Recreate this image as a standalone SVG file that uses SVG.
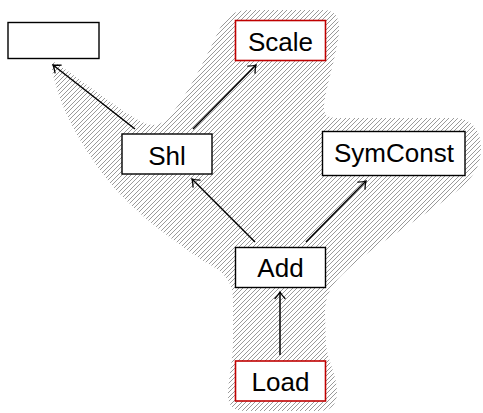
<svg xmlns="http://www.w3.org/2000/svg" width="483" height="413" viewBox="0 0 483 413">
  <style>
    .node rect { fill: #ffffff; stroke: #000000; stroke-width: 1.4; }
    .node.marked rect { stroke: #c00000; stroke-width: 1.6; }
    .node text { font-family: "Liberation Sans", Arial, sans-serif; font-size: 26px; fill: #000000; text-anchor: middle; }
    .edge { stroke: #000000; stroke-width: 1.5; fill: none; marker-end: url(#tip); }
  </style>
  <defs>
    <!-- pixel-aligned 45° hatching, two lines per 9px tile -->
    <pattern id="hatch" x="0" y="0" width="9" height="9" patternUnits="userSpaceOnUse">
      <path fill="#9a9a9a" d="M0,8h1v1h-1z M1,7h1v1h-1z M2,6h1v1h-1z M3,5h1v1h-1z M4,4h1v1h-1z M5,3h1v1h-1z M6,2h1v1h-1z M7,1h1v1h-1z M8,0h1v1h-1z
        M0,4h1v1h-1z M1,3h1v1h-1z M2,2h1v1h-1z M3,1h1v1h-1z M4,0h1v1h-1z M5,8h1v1h-1z M6,7h1v1h-1z M7,6h1v1h-1z M8,5h1v1h-1z"/>
    </pattern>
    <marker id="tip" markerUnits="userSpaceOnUse" markerWidth="14" markerHeight="14" viewBox="-8 -7 10 14" refX="0" refY="0" orient="auto">
      <path d="M -6.5,-5 Q -2.5,-1.3 0,0 Q -2.5,1.3 -6.5,5" fill="none" stroke="#000000" stroke-width="1.3" stroke-linecap="round"/>
    </marker>
  </defs>

  <!-- shaded region covering the selected part of the graph -->
  <path id="region" fill="url(#hatch)" d="M 54,62
    C 80,78 115,108 142,122
    C 152,127 160,126 168,118
    C 185,100 205,60 220,28
    C 226,15 234,11 248,10
    L 322,10
    C 336,10 340,18 339,32
    C 337,55 326,85 324,105
    C 323,116 328,118 340,118
    L 455,118
    C 472,119 481,130 481,148
    C 481,170 470,182 445,200
    C 410,225 370,248 345,272
    C 330,286 325,296 325,315
    L 326,345
    C 328,362 337,375 337,392
    C 337,406 330,411 318,411
    L 245,411
    C 232,411 227,404 228,392
    C 229,375 233,360 233,340
    L 233,300
    C 233,282 225,272 205,262
    C 180,245 140,218 110,183
    C 80,145 62,110 55,82
    C 52,72 50,64 54,62 Z"/>

  <g id="edges">
    <line class="edge" x1="135" y1="129" x2="53" y2="65"/>
    <line class="edge" x1="193" y1="129" x2="256" y2="65"/>
    <line class="edge" x1="255" y1="242" x2="192" y2="179"/>
    <line class="edge" x1="306" y1="242" x2="366" y2="181"/>
    <line class="edge" x1="280" y1="355" x2="280" y2="292"/>
  </g>

  <g id="node-empty" class="node">
    <rect x="8" y="22.5" width="91" height="36"/>
  </g>
  <g id="node-scale" class="node marked">
    <rect x="235.5" y="20.5" width="90" height="40"/>
    <text x="280.5" y="51">Scale</text>
  </g>
  <g id="node-shl" class="node">
    <rect x="122" y="134" width="90" height="40"/>
    <text x="167" y="165">Shl</text>
  </g>
  <g id="node-symconst" class="node">
    <rect x="322.5" y="131.5" width="142.5" height="44"/>
    <text x="394" y="162">SymConst</text>
  </g>
  <g id="node-add" class="node">
    <rect x="235.5" y="247.5" width="90" height="40"/>
    <text x="280.5" y="277">Add</text>
  </g>
  <g id="node-load" class="node marked">
    <rect x="235.5" y="361" width="90" height="40"/>
    <text x="280.5" y="391">Load</text>
  </g>
</svg>
